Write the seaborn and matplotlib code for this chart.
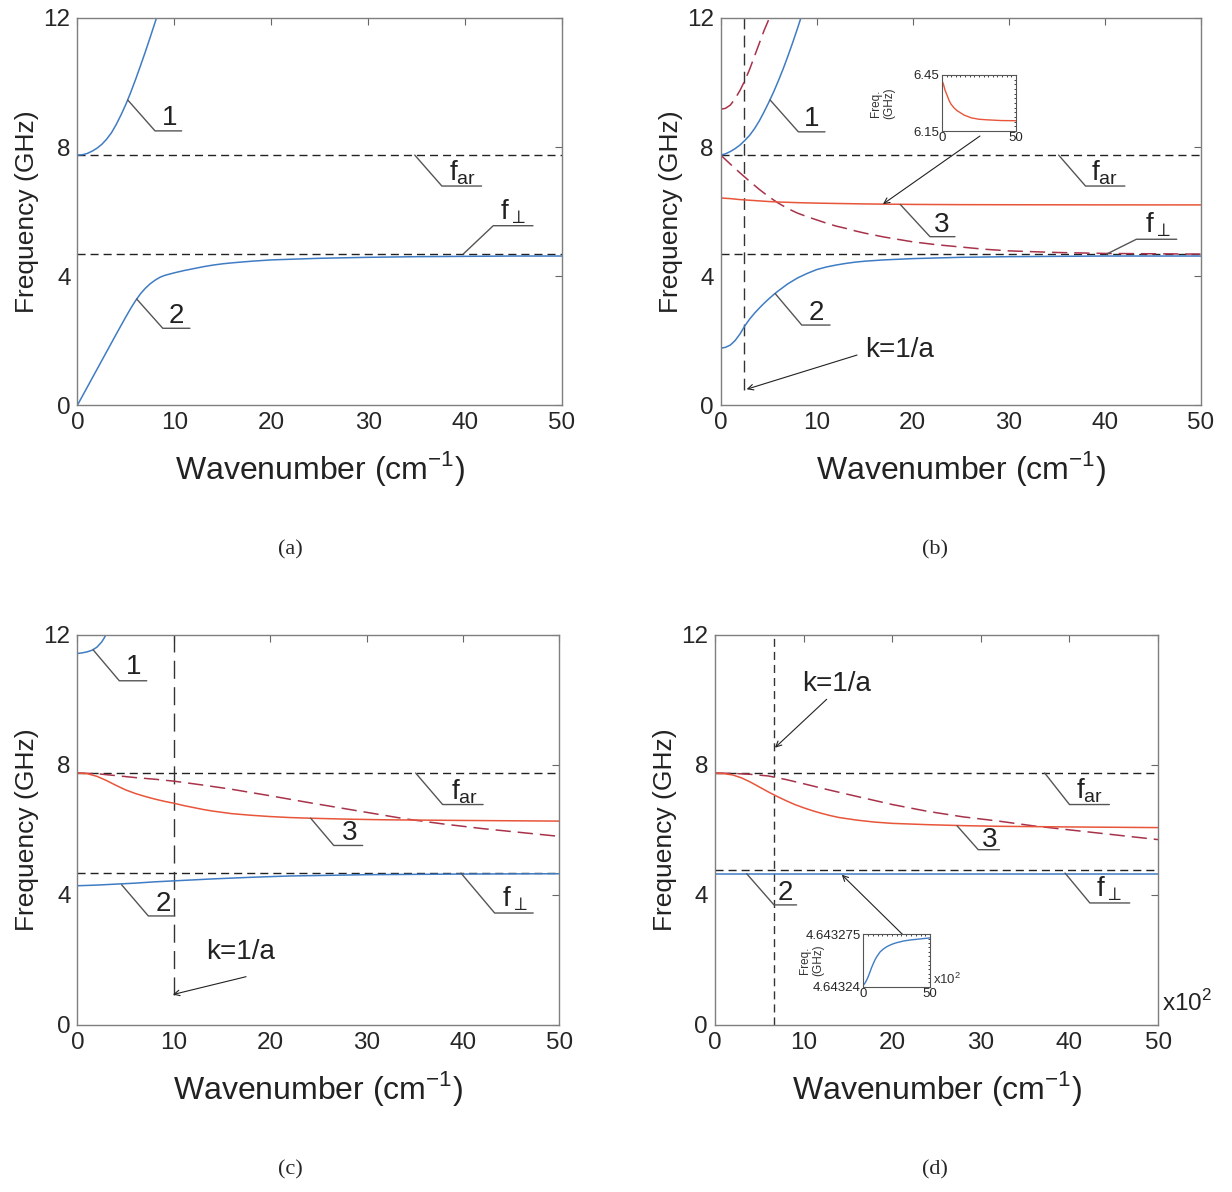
import matplotlib
matplotlib.use('Agg')
from matplotlib import pyplot as plt
from matplotlib.ticker import MultipleLocator
import seaborn as sns

# ---- values ----
f_ar = 7.75
f_perp = 4.68
f_perp_d = 4.76
ka_b = 2.46
ka_c = 10.0
ka_d = 6.65

# (a)
k_a1 = [0, 0.5, 1, 1.5, 2, 2.5, 3, 3.5, 4, 4.5, 5, 5.5, 6, 6.5, 7, 7.5, 8, 8.2]
f_a1 = [7.75, 7.76, 7.8, 7.87, 7.96, 8.08, 8.24, 8.44, 8.7, 9.0, 9.33, 9.7, 10.1,
        10.52, 10.95, 11.4, 11.86, 12.05]
k_a2 = [0, 1, 2, 3, 4, 4.5, 5, 5.5, 6, 6.5, 7, 7.5, 8, 8.5, 9, 9.5, 10, 11, 12, 13,
        14, 15, 16, 18, 20, 25, 30, 35, 40, 45, 50]
f_a2 = [0, 0.55, 1.1, 1.65, 2.2, 2.47, 2.74, 3.0, 3.24, 3.45, 3.62, 3.76, 3.87, 3.96,
        4.02, 4.06, 4.1, 4.17, 4.23, 4.29, 4.34, 4.38, 4.41, 4.46, 4.5, 4.55, 4.58,
        4.6, 4.61, 4.62, 4.62]

# (b)
k_b1 = [0, 0.5, 1, 1.5, 2, 2.5, 3, 3.5, 4, 4.5, 5, 5.5, 6, 6.5, 7, 7.5, 8, 8.5]
f_b1 = [7.75, 7.79, 7.86, 7.95, 8.06, 8.2, 8.36, 8.56, 8.8, 9.08, 9.38, 9.7, 10.05,
        10.42, 10.82, 11.24, 11.68, 12.14]
k_b2 = [0, 0.5, 1, 1.5, 2, 2.5, 3, 3.5, 4, 4.5, 5, 5.5, 6, 7, 8, 9, 10, 11, 12, 13,
        14, 15, 17, 20, 25, 30, 40, 50]
f_b2 = [1.76, 1.79, 1.86, 2.0, 2.2, 2.45, 2.66, 2.84, 3.0, 3.15, 3.29, 3.42, 3.54,
        3.76, 3.94, 4.08, 4.2, 4.28, 4.34, 4.39, 4.43, 4.46, 4.5, 4.54, 4.58, 4.6,
        4.62, 4.62]
k_b3 = [0, 1, 2, 3, 4, 5, 6, 8, 10, 12, 15, 20, 25, 30, 40, 50]
f_b3 = [6.42, 6.40, 6.37, 6.35, 6.33, 6.31, 6.295, 6.275, 6.26, 6.25, 6.235, 6.22,
        6.213, 6.21, 6.206, 6.205]
k_b4 = [0, 0.5, 1, 1.5, 2, 2.5, 3, 3.5, 4, 4.5, 5, 5.3]
f_b4 = [9.17, 9.2, 9.3, 9.5, 9.75, 10.05, 10.4, 10.8, 11.2, 11.6, 11.95, 12.1]
k_b5 = [0, 1, 2, 3, 4, 5, 6, 7, 8, 9, 10, 11, 12, 13, 14, 15, 17, 20, 22.5, 25,
        27.5, 30, 35, 40, 45, 50]
f_b5 = [7.75, 7.47, 7.2, 6.94, 6.69, 6.46, 6.26, 6.09, 5.95, 5.84, 5.74, 5.64, 5.55,
        5.48, 5.4, 5.33, 5.21, 5.06, 4.97, 4.9, 4.83, 4.78, 4.73, 4.7, 4.69, 4.68]

# (c)
k_c1 = [0, 0.5, 1, 1.5, 2, 2.5, 2.8, 3.0]
f_c1 = [11.43, 11.45, 11.48, 11.53, 11.62, 11.78, 11.92, 12.05]
k_c2 = [0, 2, 4, 6, 8, 10, 14, 18, 22, 26, 30, 40, 50]
f_c2 = [4.28, 4.3, 4.33, 4.36, 4.4, 4.43, 4.49, 4.54, 4.58, 4.6, 4.62, 4.64, 4.65]
k_c3 = [0, 1, 2, 3, 4, 5, 6, 7, 8, 9, 10, 11, 12, 13, 14, 16, 18, 20, 22, 24, 28,
        32, 36, 40, 45, 50]
f_c3 = [7.75, 7.73, 7.65, 7.52, 7.37, 7.23, 7.12, 7.03, 6.95, 6.88, 6.82, 6.75, 6.69,
        6.63, 6.58, 6.5, 6.45, 6.41, 6.38, 6.36, 6.33, 6.31, 6.3, 6.29, 6.28, 6.27]
k_c4 = [0, 2, 4, 6, 8, 10, 13, 16, 20, 24, 28, 32, 34, 38, 42, 46, 50]
f_c4 = [7.75, 7.73, 7.67, 7.61, 7.56, 7.5, 7.38, 7.25, 7.05, 6.84, 6.64, 6.44, 6.34,
        6.18, 6.04, 5.92, 5.8]

# (d)
k_d2 = [0, 50]
f_d2 = [4.643, 4.643]
k_d3 = [0, 1, 2, 3, 4, 5, 6, 7, 8, 9, 10, 11, 12, 13, 14, 15, 16, 18, 20, 22, 24,
        28, 32, 36, 40, 45, 50]
f_d3 = [7.74, 7.73, 7.69, 7.6, 7.47, 7.32, 7.17, 7.03, 6.9, 6.78, 6.68, 6.59, 6.51,
        6.44, 6.38, 6.34, 6.3, 6.24, 6.2, 6.18, 6.16, 6.13, 6.11, 6.1, 6.09, 6.08, 6.07]
k_d4 = [0, 2, 4, 6, 8, 10, 13, 16, 20, 24, 28, 32, 36, 40, 45, 50]
f_d4 = [7.75, 7.74, 7.71, 7.66, 7.55, 7.42, 7.22, 7.03, 6.78, 6.57, 6.4, 6.27, 6.12,
        6.0, 5.85, 5.7]
k_d_in = [0, 1.25, 2.5, 3.75, 5, 6.25, 7.5, 8.75, 10, 12.5, 15, 17.5, 20, 22.5, 25,
          30, 35, 42.5, 50]
f_d_in = [4.643241, 4.6432425, 4.6432445, 4.643247, 4.64325, 4.643253, 4.6432556,
          4.643258, 4.64326, 4.6432632, 4.6432652, 4.6432667, 4.6432678, 4.6432687,
          4.6432694, 4.6432705, 4.6432712, 4.6432719, 4.6432726]

BLUE = '#3f7cc4'
RED = '#e8553a'
DRED = '#a8324a'
GREY = '#555555'

sns.set_style('white')
plt.rcParams['font.family'] = ['Liberation Sans', 'DejaVu Sans']
plt.rcParams['mathtext.fontset'] = 'dejavusans'
plt.rcParams['lines.scale_dashes'] = False

fig = plt.figure(figsize=(12.32, 11.92), dpi=100)
ax_a = fig.add_axes([0.0629, 0.6602, 0.3933, 0.3247])
ax_b = fig.add_axes([0.585, 0.6602, 0.3896, 0.3247])
ax_c = fig.add_axes([0.0629, 0.1403, 0.391, 0.327])
ax_d = fig.add_axes([0.5804, 0.1403, 0.3596, 0.327])

BLK_DASH = (0, (5.8, 3.6))
RED_DASH = (0, (11, 5))


def line(ax, k, f, color, ls='-', lw=1.1):
    sns.lineplot(x=k, y=f, ax=ax, color=color, linestyle=ls, lw=lw,
                 estimator=None, errorbar=None, sort=False, legend=False)


def setup(ax):
    ax.set_xlim(0, 50)
    ax.set_ylim(0, 12)
    ax.set_xticks([0, 10, 20, 30, 40, 50])
    ax.set_yticks([0, 4, 8, 12])
    ax.tick_params(direction='in', top=True, right=True, length=5, width=0.8,
                   color='#666666', labelsize=17.5, pad=5)
    for s in ax.spines.values():
        s.set_color('#7f7f7f')
        s.set_linewidth(1.0)
    ax.set_xlabel('Wavenumber (cm$^{\\mathregular{−1}}$)', fontsize=23, labelpad=11,
                  color='#222222')
    ax.set_ylabel('Frequency (GHz)', fontsize=19, labelpad=3, color='#222222')


def callout(ax, p0, p1, xe, txt, tpos, size=20):
    ax.plot([p0[0], p1[0], xe], [p0[1], p1[1], p1[1]], color=GREY, lw=1.0,
            clip_on=False)
    ax.text(tpos[0], tpos[1], txt, ha='center', va='center', fontsize=size,
            color='#222222')


def arrow(ax, tail, tip):
    ax.annotate('', xy=tip, xytext=tail,
                arrowprops=dict(arrowstyle='->', color='#222222', lw=0.8,
                                shrinkA=0, shrinkB=0))


def inset_style(ins, xminor, yminor):
    ins.xaxis.set_minor_locator(MultipleLocator(xminor))
    ins.yaxis.set_minor_locator(MultipleLocator(yminor))
    ins.tick_params(which='both', direction='in', top=True, right=True, length=2,
                    width=0.6, labelsize=9.5)
    ins.tick_params(which='minor', length=1.5)
    ins.tick_params(axis='x', pad=1)
    ins.tick_params(axis='y', pad=2)
    for s in ins.spines.values():
        s.set_color('#555555')
        s.set_linewidth(0.8)
    ins.set_xlabel('')
    ins.set_ylabel('')


FAR = 'f$_{\\mathregular{ar}}$'
FPERP = 'f$_{\\perp}$'

# ---- (a) ----
ax = ax_a
ax.axhline(f_ar, color='#222222', lw=1.0, ls=BLK_DASH)
ax.axhline(f_perp, color='#222222', lw=1.0, ls=BLK_DASH)
line(ax, k_a1, f_a1, BLUE)
line(ax, k_a2, f_a2, BLUE)
setup(ax)
callout(ax, (5.18, 9.46), (8.0, 8.5), 10.75, '1', (9.5, 8.9))
callout(ax, (6.1, 3.29), (8.8, 2.38), 11.6, '2', (10.2, 2.75))
callout(ax, (34.8, 7.75), (37.6, 6.79), 41.7, FAR, (39.7, 7.2))
callout(ax, (39.8, 4.68), (42.9, 5.56), 47.0, FPERP, (45.0, 6.0))

# ---- (b) ----
ax = ax_b
ax.axhline(f_ar, color='#222222', lw=1.0, ls=BLK_DASH)
ax.axhline(f_perp, color='#222222', lw=1.0, ls=BLK_DASH)
line(ax, [ka_b, ka_b], [0.47, 12], '#333333', ls=(0, (8.5, 4.5)), lw=1.0)
line(ax, k_b4, f_b4, DRED, ls=RED_DASH)
line(ax, k_b5, f_b5, DRED, ls=RED_DASH)
line(ax, k_b1, f_b1, BLUE)
line(ax, k_b2, f_b2, BLUE)
line(ax, k_b3, f_b3, RED)
setup(ax)
callout(ax, (5.14, 9.46), (8.09, 8.47), 10.86, '1', (9.5, 8.88))
callout(ax, (5.66, 3.46), (8.44, 2.48), 11.39, '2', (10.0, 2.85))
callout(ax, (18.7, 6.22), (21.8, 5.22), 24.4, '3', (23.0, 5.58))
callout(ax, (35.2, 7.75), (38.0, 6.79), 42.1, FAR, (40.0, 7.2))
callout(ax, (40.2, 4.68), (43.3, 5.14), 47.5, FPERP, (45.6, 5.6))
arrow(ax, (14.2, 1.55), (2.7, 0.49))
ax.text(15.0, 1.72, 'k=1/a', fontsize=20, ha='left', va='center', color='#222222')
arrow(ax, (27.0, 8.34), (16.9, 6.23))

ins = fig.add_axes([0.7646, 0.8901, 0.0600, 0.047])
line(ins, k_b3, f_b3, RED, lw=1.0)
ins.set_xlim(0, 50)
ins.set_ylim(6.15, 6.45)
ins.set_xticks([0, 50])
ins.set_yticks([6.15, 6.45])
ins.set_yticklabels(['6.15', '6.45'])
inset_style(ins, 50 / 16, 0.025)
ins.text(-0.8, 0.5, 'Freq.\n(GHz)', rotation=90, transform=ins.transAxes,
         ha='center', va='center', fontsize=8.5, linespacing=1.1, color='#333333')

# ---- (c) ----
ax = ax_c
ax.axhline(f_ar, color='#222222', lw=1.0, ls=BLK_DASH)
ax.axhline(f_perp, color='#222222', lw=1.0, ls=BLK_DASH)
line(ax, [ka_c, ka_c], [0.93, 12], '#333333', ls=(0, (13, 6)), lw=1.0)
line(ax, k_c4, f_c4, DRED, ls=RED_DASH)
line(ax, k_c1, f_c1, BLUE)
line(ax, k_c2, f_c2, BLUE)
line(ax, k_c3, f_c3, RED)
setup(ax)
callout(ax, (1.63, 11.54), (4.34, 10.59), 7.19, '1', (5.8, 11.0))
callout(ax, (4.58, 4.31), (7.35, 3.35), 10.1, '2', (8.9, 3.72))
callout(ax, (24.2, 6.36), (26.6, 5.52), 29.6, '3', (28.2, 5.9))
callout(ax, (35.1, 7.75), (37.9, 6.78), 42.1, FAR, (40.2, 7.18))
callout(ax, (39.8, 4.67), (43.3, 3.44), 47.3, FPERP, (45.4, 3.88))
arrow(ax, (17.5, 1.48), (9.9, 0.93))
ax.text(13.3, 2.25, 'k=1/a', fontsize=20, ha='left', va='center', color='#222222')

# ---- (d) ----
ax = ax_d
ax.axhline(f_ar, color='#222222', lw=1.0, ls=BLK_DASH)
ax.axhline(f_perp_d, color='#222222', lw=1.0, ls=BLK_DASH)
line(ax, [ka_d, ka_d], [0, 12], '#333333', ls=BLK_DASH, lw=1.0)
line(ax, k_d4, f_d4, DRED, ls=RED_DASH)
line(ax, k_d2, f_d2, BLUE)
line(ax, k_d3, f_d3, RED)
setup(ax)
callout(ax, (3.57, 4.65), (6.65, 3.69), 9.2, '2', (7.9, 4.05))
callout(ax, (27.3, 6.13), (29.7, 5.39), 32.1, '3', (31.0, 5.7))
callout(ax, (37.2, 7.75), (40.0, 6.78), 44.5, FAR, (42.3, 7.2))
callout(ax, (39.5, 4.67), (42.3, 3.75), 46.8, FPERP, (44.5, 4.18))
arrow(ax, (12.6, 10.02), (6.76, 8.53))
ax.text(9.8, 10.49, 'k=1/a', fontsize=20, ha='left', va='center', color='#222222')
arrow(ax, (21.2, 2.77), (14.3, 4.62))
fig.text(1162 / 1232, 1 - 1003 / 1192, 'x10$^{\\mathregular{2}}$', fontsize=17.5,
         ha='left', va='center', color='#222222')

ins = fig.add_axes([0.7008, 0.1722, 0.0541, 0.044])
line(ins, k_d_in, f_d_in, BLUE, lw=1.0)
ins.set_xlim(0, 50)
ins.set_ylim(4.64324, 4.643275)
ins.set_xticks([0, 50])
ins.set_xticklabels(['0', '50'])
ins.set_yticks([4.64324, 4.643275])
ins.set_yticklabels(['4.64324', '4.643275'])
inset_style(ins, 50 / 14, 3.5e-5 / 12)
ins.text(-0.78, 0.5, 'Freq.\n(GHz)', rotation=90, transform=ins.transAxes,
         ha='center', va='center', fontsize=8.5, linespacing=1.1, color='#333333')
ins.text(1.04, 0.14, 'x10$^{\\mathregular{2}}$', transform=ins.transAxes,
         fontsize=9.5, ha='left', va='center', color='#333333')

# captions
for x, y, t in [(0.2354, 0.5386, '(a)'), (0.759, 0.5386, '(b)'),
                (0.2354, 0.0185, '(c)'), (0.759, 0.0185, '(d)')]:
    fig.text(x, y, t, fontsize=16, family='Liberation Serif', ha='center', va='center')

fig.savefig('out.png', dpi=100, facecolor='white')
